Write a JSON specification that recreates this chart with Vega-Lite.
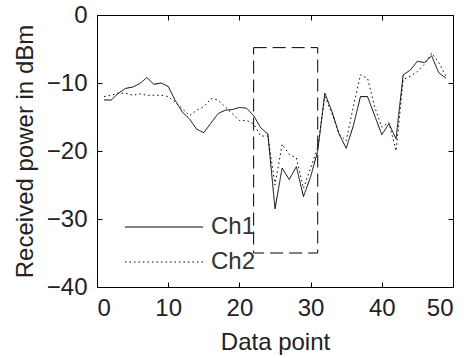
{
  "$schema": "https://vega.github.io/schema/vega-lite/v6.json",
  "width": 356,
  "height": 272,
  "autosize": "none",
  "padding": {"left": 97, "top": 15, "right": 17, "bottom": 71},
  "background": "white",
  "config": {
    "view": {"stroke": "black", "strokeWidth": 1},
    "font": "Liberation Sans",
    "axis": {
      "grid": false,
      "domainColor": "black",
      "tickColor": "black",
      "tickSize": -5,
      "labelFontSize": 24,
      "labelColor": "#222",
      "titleFontSize": 24,
      "titleFontWeight": "normal",
      "titleColor": "#222",
      "labelFont": "Liberation Sans",
      "titleFont": "Liberation Sans"
    }
  },
  "layer": [
    {
      "data": {
        "values": [
          {"x": 1, "y": -12.5, "series": "Ch1"}, {"x": 2, "y": -12.5, "series": "Ch1"}, {"x": 3, "y": -11.5, "series": "Ch1"}, {"x": 4, "y": -10.8, "series": "Ch1"}, {"x": 5, "y": -10.6, "series": "Ch1"}, {"x": 6, "y": -10.1, "series": "Ch1"}, {"x": 7, "y": -9.2, "series": "Ch1"}, {"x": 8, "y": -10.2, "series": "Ch1"}, {"x": 9, "y": -10, "series": "Ch1"}, {"x": 10, "y": -10.5, "series": "Ch1"},
          {"x": 11, "y": -12.6, "series": "Ch1"}, {"x": 12, "y": -14.3, "series": "Ch1"}, {"x": 13, "y": -15.3, "series": "Ch1"}, {"x": 14, "y": -16.8, "series": "Ch1"}, {"x": 15, "y": -17.3, "series": "Ch1"}, {"x": 16, "y": -15.9, "series": "Ch1"}, {"x": 17, "y": -14.5, "series": "Ch1"}, {"x": 18, "y": -14, "series": "Ch1"}, {"x": 19, "y": -13.9, "series": "Ch1"}, {"x": 20, "y": -13.6, "series": "Ch1"},
          {"x": 21, "y": -13.7, "series": "Ch1"}, {"x": 22, "y": -14.8, "series": "Ch1"}, {"x": 23, "y": -16.6, "series": "Ch1"}, {"x": 24, "y": -17.5, "series": "Ch1"}, {"x": 25, "y": -28.5, "series": "Ch1"}, {"x": 26, "y": -22.5, "series": "Ch1"}, {"x": 27, "y": -24.2, "series": "Ch1"}, {"x": 28, "y": -22.3, "series": "Ch1"}, {"x": 29, "y": -26.7, "series": "Ch1"}, {"x": 30, "y": -23.8, "series": "Ch1"},
          {"x": 31, "y": -20, "series": "Ch1"}, {"x": 32, "y": -11.5, "series": "Ch1"}, {"x": 33, "y": -14.2, "series": "Ch1"}, {"x": 34, "y": -17.5, "series": "Ch1"}, {"x": 35, "y": -19.6, "series": "Ch1"}, {"x": 36, "y": -16.3, "series": "Ch1"}, {"x": 37, "y": -12, "series": "Ch1"}, {"x": 38, "y": -12, "series": "Ch1"}, {"x": 39, "y": -14.8, "series": "Ch1"}, {"x": 40, "y": -17.6, "series": "Ch1"},
          {"x": 41, "y": -16, "series": "Ch1"}, {"x": 42, "y": -18.2, "series": "Ch1"}, {"x": 43, "y": -8.8, "series": "Ch1"}, {"x": 44, "y": -8.1, "series": "Ch1"}, {"x": 45, "y": -6.8, "series": "Ch1"}, {"x": 46, "y": -7, "series": "Ch1"}, {"x": 47, "y": -6, "series": "Ch1"}, {"x": 48, "y": -8.5, "series": "Ch1"}, {"x": 49, "y": -9.3, "series": "Ch1"},
          {"x": 1, "y": -12, "series": "Ch2"}, {"x": 2, "y": -11.8, "series": "Ch2"}, {"x": 3, "y": -11.5, "series": "Ch2"}, {"x": 4, "y": -11.5, "series": "Ch2"}, {"x": 5, "y": -11.8, "series": "Ch2"}, {"x": 6, "y": -11.6, "series": "Ch2"}, {"x": 7, "y": -11.8, "series": "Ch2"}, {"x": 8, "y": -11.8, "series": "Ch2"}, {"x": 9, "y": -11.8, "series": "Ch2"}, {"x": 10, "y": -12, "series": "Ch2"},
          {"x": 11, "y": -12.8, "series": "Ch2"}, {"x": 12, "y": -13.8, "series": "Ch2"}, {"x": 13, "y": -14.8, "series": "Ch2"}, {"x": 14, "y": -14, "series": "Ch2"}, {"x": 15, "y": -13.5, "series": "Ch2"}, {"x": 16, "y": -12.3, "series": "Ch2"}, {"x": 17, "y": -12.5, "series": "Ch2"}, {"x": 18, "y": -13.5, "series": "Ch2"}, {"x": 19, "y": -14.5, "series": "Ch2"}, {"x": 20, "y": -15.5, "series": "Ch2"},
          {"x": 21, "y": -15.5, "series": "Ch2"}, {"x": 22, "y": -16, "series": "Ch2"}, {"x": 23, "y": -17.8, "series": "Ch2"}, {"x": 24, "y": -17.8, "series": "Ch2"}, {"x": 25, "y": -25, "series": "Ch2"}, {"x": 26, "y": -19, "series": "Ch2"}, {"x": 27, "y": -20.5, "series": "Ch2"}, {"x": 28, "y": -21, "series": "Ch2"}, {"x": 29, "y": -25.5, "series": "Ch2"}, {"x": 30, "y": -22.5, "series": "Ch2"},
          {"x": 31, "y": -19.5, "series": "Ch2"}, {"x": 32, "y": -12, "series": "Ch2"}, {"x": 33, "y": -14.5, "series": "Ch2"}, {"x": 34, "y": -17.5, "series": "Ch2"}, {"x": 35, "y": -18.5, "series": "Ch2"}, {"x": 36, "y": -13.5, "series": "Ch2"}, {"x": 37, "y": -8.8, "series": "Ch2"}, {"x": 38, "y": -9.3, "series": "Ch2"}, {"x": 39, "y": -13.5, "series": "Ch2"}, {"x": 40, "y": -16.5, "series": "Ch2"},
          {"x": 41, "y": -15.8, "series": "Ch2"}, {"x": 42, "y": -20, "series": "Ch2"}, {"x": 43, "y": -9.5, "series": "Ch2"}, {"x": 44, "y": -9, "series": "Ch2"}, {"x": 45, "y": -8.3, "series": "Ch2"}, {"x": 46, "y": -7.2, "series": "Ch2"}, {"x": 47, "y": -5.6, "series": "Ch2"}, {"x": 48, "y": -7, "series": "Ch2"}, {"x": 49, "y": -9, "series": "Ch2"}
        ]
      },
      "mark": {"type": "line", "color": "black", "strokeWidth": 1},
      "encoding": {
        "x": {"field": "x", "type": "quantitative", "scale": {"domain": [0, 50], "nice": false, "zero": false},
              "axis": {"title": "Data point", "values": [0, 10, 20, 30, 40, 50], "labelPadding": 14, "titlePadding": 10}},
        "y": {"field": "y", "type": "quantitative", "scale": {"domain": [-40, 0], "nice": false, "zero": false},
              "axis": {"title": "Received power in dBm", "values": [-40, -30, -20, -10, 0], "labelPadding": 15, "titlePadding": 9}},
        "strokeDash": {"field": "series", "type": "nominal",
          "scale": {"domain": ["Ch1", "Ch2"], "range": [[1, 0], [1.5, 3]]},
          "legend": {"orient": "none", "legendX": 55, "legendY": 200, "title": null,
                     "symbolType": "M-10,0H10", "symbolSize": 61, "symbolStrokeColor": "black", "symbolStrokeWidth": 1,
                     "labelFontSize": 24, "labelFont": "Liberation Sans", "labelColor": "#333", "labelOffset": 35, "rowPadding": 11, "padding": 0}}
      }
    },
    {
      "data": {"values": [{"x1": 22, "x2": 31, "y1": -4.8, "y2": -35}]},
      "mark": {"type": "rect", "filled": false, "color": "black", "strokeWidth": 1, "strokeDash": [13, 6]},
      "encoding": {
        "x": {"field": "x1", "type": "quantitative", "axis": {"orient": "top", "labels": false, "title": null, "domain": false, "values": [0, 10, 20, 30, 40, 50]}},
        "x2": {"field": "x2"},
        "y": {"field": "y1", "type": "quantitative", "axis": {"orient": "right", "labels": false, "title": null, "domain": false, "values": [-40, -30, -20, -10, 0]}},
        "y2": {"field": "y2"}
      }
    }
  ],
  "resolve": {"axis": {"x": "independent", "y": "independent"}}
}
